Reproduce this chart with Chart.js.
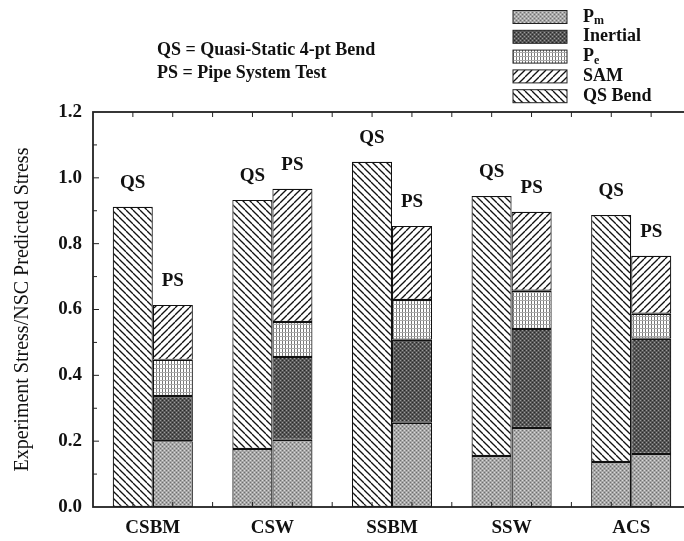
<!DOCTYPE html>
<html>
<head>
<meta charset="utf-8">
<script src="https://cdn.jsdelivr.net/npm/chart.js@4.4.0/dist/chart.umd.min.js"></script>
<style>
  html, body { margin: 0; padding: 0; background: #fff; overflow: hidden; }
  #wrap { width: 700px; height: 541px; }
</style>
</head>
<body>
<div id="wrap"><canvas id="chart" width="700" height="541"></canvas></div>
<script>
const categories = ['CSBM', 'CSW', 'SSBM', 'SSW', 'ACS'];
// QS = quasi-static 4-pt bend bars
const qsPm = [null, 0.176, null, 0.155, 0.137];
const qsBend = [0.912, 0.757, 1.049, 0.79, 0.75];
// PS = pipe system test bars
const psPm = [0.2, 0.204, 0.256, 0.24, 0.161];
const psInertial = [0.137, 0.252, 0.252, 0.301, 0.35];
const psPe = [0.11, 0.106, 0.121, 0.116, 0.076];
const psSam = [0.167, 0.405, 0.225, 0.24, 0.176];
const yTicks = [0, 0.2, 0.4, 0.6, 0.8, 1.0, 1.2];

const serif = "'Liberation Serif', 'DejaVu Serif', serif";
const ctx = document.getElementById('chart').getContext('2d');

function tile(w, h, draw) {
  const c = document.createElement('canvas');
  c.width = w;
  c.height = h;
  draw(c.getContext('2d'), w, h);
  return ctx.createPattern(c, 'repeat');
}

function hatch(dir, n, lw) {
  return tile(n, n, (g) => {
    g.fillStyle = '#fff';
    g.fillRect(0, 0, n, n);
    g.strokeStyle = '#111';
    g.lineWidth = lw;
    for (const k of [-n, 0, n]) {
      g.beginPath();
      if (dir === 'back') {
        g.moveTo(k, 0);
        g.lineTo(k + n, n);
      } else {
        g.moveTo(k, n);
        g.lineTo(k + n, 0);
      }
      g.stroke();
    }
  });
}

function dots(bg, a, b) {
  return tile(4, 4, (g) => {
    g.fillStyle = bg;
    g.fillRect(0, 0, 4, 4);
    g.fillStyle = a;
    g.fillRect(0, 0, 1, 1);
    g.fillRect(2, 2, 1, 1);
    g.fillStyle = b;
    g.fillRect(2, 0, 1, 1);
    g.fillRect(0, 2, 1, 1);
  });
}

const patPm = dots('#a6a6a6', '#6e6e6e', '#d8d8d8');
const patInertial = dots('#575757', '#9a9a9a', '#2a2a2a');
const patPe = tile(3, 4, (g) => {
  g.fillStyle = '#fff';
  g.fillRect(0, 0, 3, 4);
  g.fillStyle = '#777';
  g.fillRect(0, 0, 1, 4);
  g.fillStyle = '#aaa';
  g.fillRect(0, 0, 3, 1);
});
const patSam = hatch('fwd', 7, 1.3);
const patBend = hatch('back', 7, 1.3);

const legendItems = [
  { label: 'P', sub: 'm', fill: patPm },
  { label: 'Inertial', fill: patInertial },
  { label: 'P', sub: 'e', fill: patPe },
  { label: 'SAM', fill: patSam },
  { label: 'QS Bend', fill: patBend }
];

function bar(label, data, fill, stack) {
  return {
    label, data, stack,
    backgroundColor: fill,
    borderColor: '#111',
    borderWidth: 1.2,
    borderSkipped: false,
    barPercentage: 1.0,
    categoryPercentage: 0.67
  };
}

const framePlugin = {
  id: 'frame',
  afterDatasetsDraw(chart) {
    const { ctx: c, chartArea: a, scales } = chart;
    c.save();
    c.strokeStyle = '#222';
    c.lineWidth = 1.8;
    c.strokeRect(a.left, a.top, a.right - a.left, a.bottom - a.top);
    c.lineWidth = 1;
    // inward ticks on y, every 0.1
    for (let i = 1; i < 12; i++) {
      const y = scales.y.getPixelForValue(i / 10);
      const len = i % 2 === 0 ? 6 : 4;
      c.beginPath();
      c.moveTo(a.left, y); c.lineTo(a.left + len, y);
      c.moveTo(a.right, y); c.lineTo(a.right - len, y);
      c.stroke();
    }
    // inward ticks on top and bottom, thirds of a category
    const step = (a.right - a.left) / (categories.length * 3);
    for (let k = 1; k < categories.length * 3; k++) {
      const x = a.left + k * step;
      c.beginPath();
      c.moveTo(x, a.top); c.lineTo(x, a.top + 5);
      c.moveTo(x, a.bottom); c.lineTo(x, a.bottom - 5);
      c.stroke();
    }
    // QS / PS labels above each bar
    c.fillStyle = '#111';
    c.font = 'bold 19px ' + serif;
    c.textAlign = 'center';
    c.textBaseline = 'middle';
    const qsMeta = chart.getDatasetMeta(1);
    const psMeta = chart.getDatasetMeta(5);
    categories.forEach((_, i) => {
      const q = qsMeta.data[i];
      const p = psMeta.data[i];
      c.fillText('QS', q.x, q.y - 24);
      c.fillText('PS', p.x, p.y - 24);
    });
    c.restore();
  },
  afterDraw(chart) {
    const c = chart.ctx;
    c.save();
    c.fillStyle = '#111';
    c.textBaseline = 'middle';
    c.textAlign = 'left';
    c.font = 'bold 18px ' + serif;
    c.fillText('QS = Quasi-Static 4-pt Bend', 157, 50);
    c.fillText('PS = Pipe System Test', 157, 73);
    // legend
    legendItems.forEach((it, i) => {
      const y = 17 + i * 19.8;
      c.fillStyle = it.fill;
      c.fillRect(513, y - 6.5, 54, 13);
      c.strokeStyle = '#222';
      c.lineWidth = 1;
      c.strokeRect(513, y - 6.5, 54, 13);
      c.fillStyle = '#111';
      c.font = 'bold 18px ' + serif;
      c.fillText(it.label, 583, y);
      if (it.sub) {
        const w = c.measureText(it.label).width;
        c.font = 'bold 12px ' + serif;
        c.fillText(it.sub, 583 + w, y + 4);
      }
    });
    c.restore();
  }
};

new Chart(ctx, {
  type: 'bar',
  data: {
    labels: categories,
    datasets: [
      bar('Pm', qsPm, patPm, 'QS'),
      bar('QS Bend', qsBend, patBend, 'QS'),
      bar('Pm', psPm, patPm, 'PS'),
      bar('Inertial', psInertial, patInertial, 'PS'),
      bar('Pe', psPe, patPe, 'PS'),
      bar('SAM', psSam, patSam, 'PS')
    ]
  },
  options: {
    responsive: false,
    animation: false,
    layout: { padding: { top: 112, right: 9, left: 0, bottom: 0 } },
    plugins: {
      legend: { display: false },
      tooltip: { enabled: false }
    },
    scales: {
      x: {
        stacked: true,
        grid: { display: false, drawTicks: false },
        border: { display: false },
        ticks: {
          padding: 10,
          color: '#111',
          font: { family: serif, size: 19, weight: 'bold' }
        },
        afterFit(scale) { scale.height = 34; }
      },
      y: {
        stacked: true,
        min: 0,
        max: 1.2,
        afterBuildTicks(scale) { scale.ticks = yTicks.map((v) => ({ value: v })); },
        grid: { display: false, drawTicks: false },
        border: { display: false },
        ticks: {
          padding: 11,
          color: '#111',
          font: { family: serif, size: 19, weight: 'bold' },
          callback: (v) => Number(v).toFixed(1)
        },
        title: {
          display: true,
          text: 'Experiment Stress/NSC Predicted Stress',
          color: '#111',
          font: { family: serif, size: 20 },
          padding: { top: 11, bottom: 0 }
        },
        afterFit(scale) { scale.width = 93; }
      }
    }
  },
  plugins: [framePlugin]
});
</script>
</body>
</html>
